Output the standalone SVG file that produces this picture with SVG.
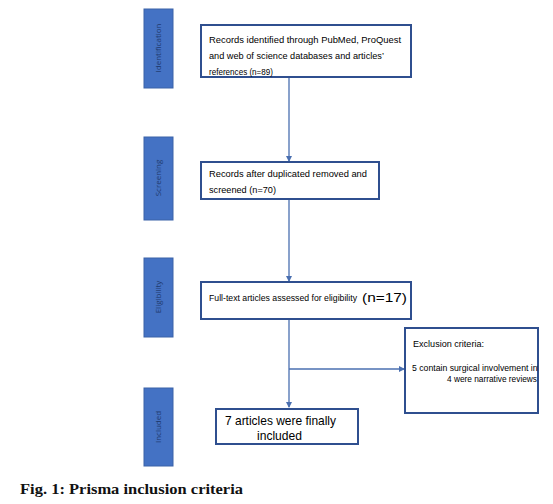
<svg xmlns="http://www.w3.org/2000/svg" width="553" height="504" viewBox="0 0 553 504">
<style>
.bar{fill:#4472C4;stroke:#3a62a8;stroke-width:1}
.bt{font-family:"Open Sans","Liberation Sans",sans-serif;font-size:8px;fill:#1f3a6e;text-anchor:middle}
.box{fill:#fff;stroke:#2F4F8F;stroke-width:2}
.t{font-family:"Liberation Sans",Arial,sans-serif;font-size:9.5px;fill:#000}
.big{font-family:"Liberation Sans",Arial,sans-serif;font-size:13px;fill:#000}
.ln{stroke:#4a6fb0;stroke-width:1.3;fill:none}
.cap{font-family:"Liberation Serif","Times New Roman",serif;font-size:15px;font-weight:bold;fill:#111}
</style>
<defs>
<marker id="ah" markerWidth="6" markerHeight="6" refX="5" refY="3" orient="auto" markerUnits="userSpaceOnUse">
<path d="M0,0 L6,3 L0,6 z" fill="#4a6fb0"/>
</marker>
<clipPath id="exclip"><rect x="405" y="328" width="133" height="85"/></clipPath>
</defs>
<rect width="553" height="504" fill="#fff"/>

<g id="stage-identification">
<rect class="bar" x="144" y="9" width="29" height="79"/>
<text class="bt" transform="translate(161,48) rotate(-90)">Identification</text>
</g>
<g id="stage-screening">
<rect class="bar" x="144" y="137" width="29" height="83"/>
<text class="bt" transform="translate(161,178) rotate(-90)">Screening</text>
</g>
<g id="stage-eligibility">
<rect class="bar" x="144" y="258" width="29" height="79"/>
<text class="bt" transform="translate(161,297) rotate(-90)">Eligibility</text>
</g>
<g id="stage-included">
<rect class="bar" x="144" y="388" width="29" height="78"/>
<text class="bt" transform="translate(161,427) rotate(-90)">Included</text>
</g>

<g id="connectors">
<line class="ln" x1="289" y1="77" x2="289" y2="161" marker-end="url(#ah)"/>
<line class="ln" x1="289" y1="199" x2="289" y2="281" marker-end="url(#ah)"/>
<line class="ln" x1="289" y1="319" x2="289" y2="407" marker-end="url(#ah)"/>
<line class="ln" x1="289" y1="369" x2="404" y2="369" marker-end="url(#ah)"/>
</g>

<g id="records-identified">
<rect class="box" x="201" y="25" width="210" height="52"/>
<text class="t" x="209" y="43" textLength="192" lengthAdjust="spacingAndGlyphs">Records identified through PubMed, ProQuest</text>
<text class="t" x="209" y="59" textLength="175" lengthAdjust="spacingAndGlyphs">and web of science databases and articles’</text>
<text class="t" x="209" y="75" textLength="64" lengthAdjust="spacingAndGlyphs">references (n=89)</text>
</g>

<g id="records-screened">
<rect class="box" x="201" y="162" width="178" height="37"/>
<text class="t" x="209" y="177" textLength="158" lengthAdjust="spacingAndGlyphs">Records after duplicated removed and</text>
<text class="t" x="209" y="193" textLength="67" lengthAdjust="spacingAndGlyphs">screened (n=70)</text>
</g>

<g id="full-text">
<rect class="box" x="201" y="282" width="210" height="37"/>
<text class="t" x="209" y="301" style="font-size:8.2px" textLength="148" lengthAdjust="spacingAndGlyphs">Full-text articles assessed for eligibility</text>
<text class="big" x="362" y="302" textLength="45" lengthAdjust="spacingAndGlyphs">(n=17)</text>
</g>

<g id="exclusion">
<rect class="box" x="405" y="328" width="133" height="85"/>
<text class="t" x="413" y="347" textLength="71" lengthAdjust="spacingAndGlyphs">Exclusion criteria:</text>
<g clip-path="url(#exclip)">
<text class="t" x="412" y="371" textLength="128" lengthAdjust="spacingAndGlyphs">5 contain surgical involvement int</text>
</g>
<text class="t" x="447" y="382" textLength="90" lengthAdjust="spacingAndGlyphs">4 were narrative reviews</text>
</g>

<g id="included">
<rect class="box" x="216" y="409" width="142" height="35"/>
<text class="big" x="225" y="425" textLength="111" lengthAdjust="spacingAndGlyphs">7 articles were finally</text>
<text class="big" x="257" y="440" textLength="45" lengthAdjust="spacingAndGlyphs">included</text>
</g>

<text class="cap" x="20" y="494" textLength="223" lengthAdjust="spacingAndGlyphs">Fig. 1: Prisma inclusion criteria</text>
</svg>
